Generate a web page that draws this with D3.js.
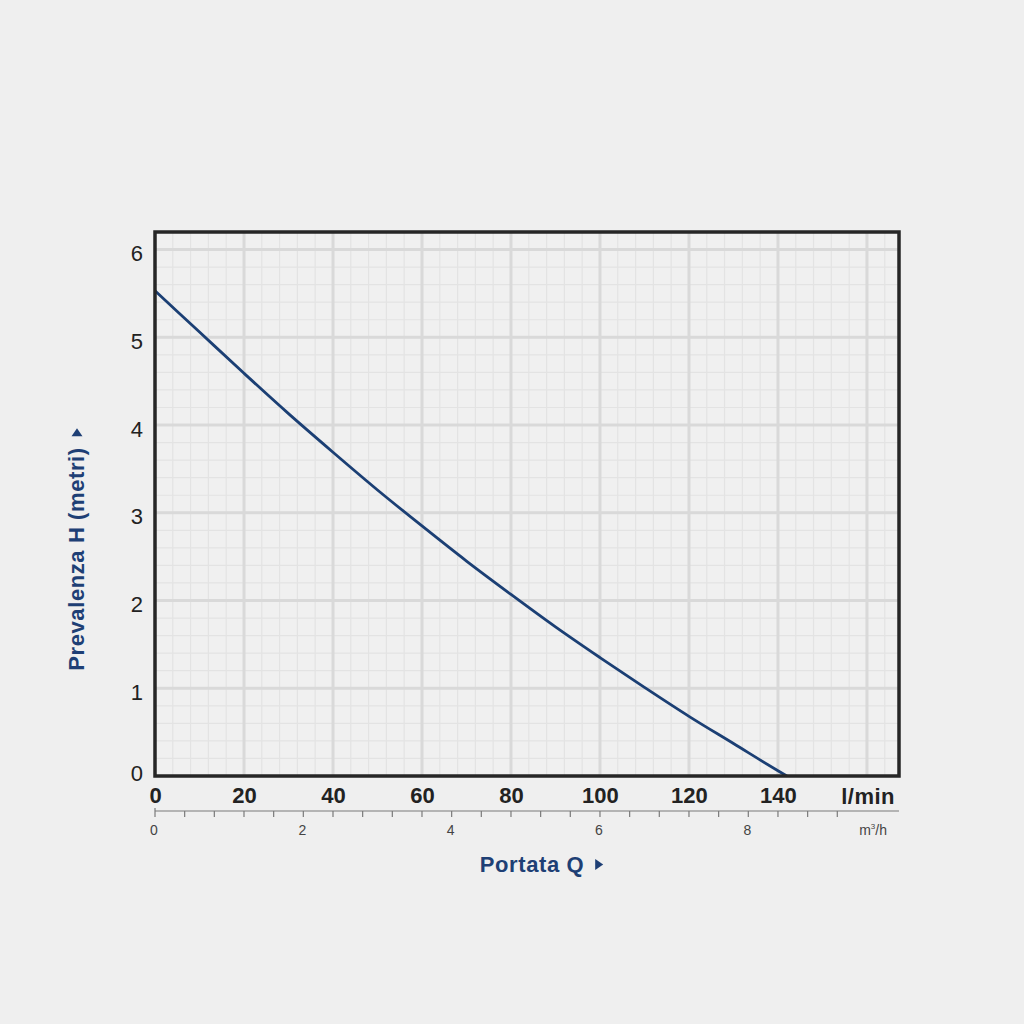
<!DOCTYPE html>
<html>
<head>
<meta charset="utf-8">
<script src="https://cdn.jsdelivr.net/npm/d3@7"></script>
<style>
  html, body { margin: 0; padding: 0; background: #efefef; }
  svg { display: block; font-family: "Liberation Sans", Arial, Helvetica, sans-serif; }
</style>
</head>
<body>
<svg id="chart"></svg>
<script>
// Pump curve: flow (l/min) vs head (m)
const flowLmin = [0, 10, 20, 30, 40, 50, 60, 70, 80, 90, 100, 110, 120, 130, 140, 142];
const headM = [5.53, 5.06, 4.59, 4.13, 3.69, 3.26, 2.85, 2.45, 2.07, 1.70, 1.35, 1.01, 0.68, 0.37, 0.06, 0];

const xTicks = [0, 20, 40, 60, 80, 100, 120, 140];
const yTicks = [0, 1, 2, 3, 4, 5, 6];
const m3hLabels = [0, 2, 4, 6, 8];
const m3hTicks = d3.range(0, 9.21, 0.4);

const W = 1024, H = 1024;
const margin = { top: 232, right: 125, bottom: 248, left: 155 };
const width = W - margin.left - margin.right;
const height = H - margin.top - margin.bottom;

const svg = d3.select("#chart").attr("width", W).attr("height", H);
svg.append("rect").attr("width", W).attr("height", H).attr("fill", "#efefef");

const chart = svg.append("g").attr("transform", `translate(${margin.left},${margin.top})`);

// scales
const xMax = 167.2;
const x = d3.scaleLinear().domain([0, xMax]).range([0, width]);
const y = d3.scaleLinear().domain([0, 6.2]).range([height, 0]);
const xm = d3.scaleLinear().domain([0, xMax * 0.06]).range([0, width]);

chart.append("rect").attr("width", width).attr("height", height).attr("fill", "#f0f0f0");

// minor grid
chart.append("g").selectAll("line")
    .data(d3.range(4, xMax, 4).filter(v => v % 20 !== 0))
    .enter().append("line")
    .attr("x1", d => x(d)).attr("x2", d => x(d))
    .attr("y1", 0).attr("y2", height)
    .attr("stroke", "#e3e3e3").attr("stroke-width", 1.2);

chart.append("g").selectAll("line")
    .data(d3.range(1, 31).map(i => i * 0.2).filter(v => Math.abs(v - Math.round(v)) > 0.01))
    .enter().append("line")
    .attr("x1", 0).attr("x2", width)
    .attr("y1", d => y(d)).attr("y2", d => y(d))
    .attr("stroke", "#e3e3e3").attr("stroke-width", 1.2);

// major grid
chart.append("g").selectAll("line")
    .data(d3.range(20, xMax, 20))
    .enter().append("line")
    .attr("x1", d => x(d)).attr("x2", d => x(d))
    .attr("y1", 0).attr("y2", height)
    .attr("stroke", "#d9d9d9").attr("stroke-width", 3);

chart.append("g").selectAll("line")
    .data(yTicks.filter(d => d > 0))
    .enter().append("line")
    .attr("x1", 0).attr("x2", width)
    .attr("y1", d => y(d)).attr("y2", d => y(d))
    .attr("stroke", "#d9d9d9").attr("stroke-width", 3);

// curve
const line = d3.line()
    .x((d, i) => x(flowLmin[i]))
    .y(d => y(d))
    .curve(d3.curveMonotoneX);

chart.append("path")
    .datum(headM)
    .attr("d", line)
    .attr("fill", "none")
    .attr("stroke", "#1b3f74")
    .attr("stroke-width", 2.8);

// frame
chart.append("rect")
    .attr("width", width).attr("height", height)
    .attr("fill", "none")
    .attr("stroke", "#262626")
    .attr("stroke-width", 3.5);

// y axis labels
const yAxis = chart.append("g")
    .call(d3.axisLeft(y).tickValues(yTicks).tickSize(0).tickPadding(12).tickFormat(d3.format("d")));
yAxis.select(".domain").remove();
yAxis.selectAll("text")
    .attr("font-size", 22).attr("fill", "#222")
    .attr("font-family", "Liberation Sans, Arial, sans-serif")
    .attr("dy", d => d === 0 ? "0.2em" : "0.5em");

// x axis (l/min)
const xAxis = chart.append("g")
    .attr("transform", `translate(0,${height})`)
    .call(d3.axisBottom(x).tickValues(xTicks).tickSize(0).tickPadding(11).tickFormat(d3.format("d")));
xAxis.select(".domain").remove();
xAxis.selectAll("text")
    .attr("font-size", 22).attr("font-weight", "bold").attr("fill", "#222")
    .attr("font-family", "Liberation Sans, Arial, sans-serif");

chart.append("text")
    .attr("x", width - 4).attr("y", height + 28)
    .attr("text-anchor", "end")
    .attr("font-size", 22).attr("font-weight", "bold").attr("fill", "#222")
    .attr("letter-spacing", 0.5)
    .text("l/min");

// second axis (m3/h)
const mAxis = chart.append("g")
    .attr("transform", `translate(0,${height + 35})`);
mAxis.append("line")
    .attr("x1", 0).attr("x2", width)
    .attr("stroke", "#7a7a7a").attr("stroke-width", 1.2);
mAxis.selectAll(".tk")
    .data(m3hTicks)
    .enter().append("line")
    .attr("class", "tk")
    .attr("x1", d => xm(d)).attr("x2", d => xm(d))
    .attr("y1", d => d === 0 ? -3 : 0).attr("y2", 6)
    .attr("stroke", "#7a7a7a").attr("stroke-width", 1.2);
mAxis.selectAll(".lb")
    .data(m3hLabels)
    .enter().append("text")
    .attr("class", "lb")
    .attr("x", d => xm(d) - 1).attr("y", 24)
    .attr("text-anchor", "middle")
    .attr("font-size", 14).attr("fill", "#444")
    .text(d => d);
const mu = mAxis.append("text")
    .attr("x", width - 12).attr("y", 24)
    .attr("text-anchor", "end")
    .attr("font-size", 14).attr("fill", "#444");
mu.append("tspan").text("m");
mu.append("tspan").attr("font-size", 8).attr("dy", -6).text("3");
mu.append("tspan").attr("dy", 6).text("/h");

// axis titles
const blue = "#1e3f75";
const xt = svg.append("text")
    .attr("x", 532).attr("y", 872)
    .attr("text-anchor", "middle")
    .attr("font-size", 22).attr("font-weight", "bold").attr("fill", blue)
    .attr("letter-spacing", 0.6)
    .text("Portata Q");
const xb = xt.node().getBBox();
svg.append("path")
    .attr("d", `M${xb.x + xb.width + 11},${xb.y + xb.height / 2 - 5.5} l8,5.5 l-8,5.5 Z`)
    .attr("fill", blue);

const yt = svg.append("text")
    .attr("transform", "translate(84,559) rotate(-90)")
    .attr("text-anchor", "middle")
    .attr("font-size", 22).attr("font-weight", "bold").attr("fill", blue)
    .attr("letter-spacing", 0.6)
    .text("Prevalenza H (metri)");
const yb = yt.node().getBBox();
const topY = 559 - yb.width / 2 - 11;
svg.append("path")
    .attr("d", `M${77 - 5.5},${topY} l5.5,-8 l5.5,8 Z`)
    .attr("fill", blue);
</script>
</body>
</html>
